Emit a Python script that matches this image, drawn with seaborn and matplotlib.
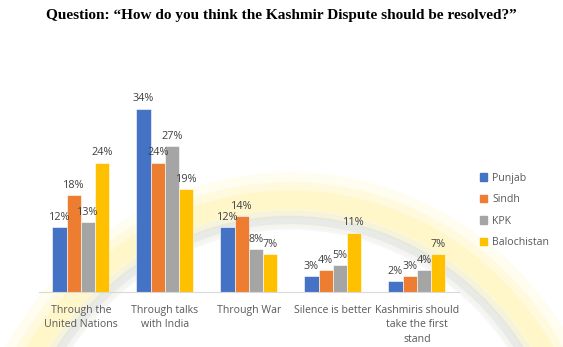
import matplotlib
matplotlib.use("Agg")
import matplotlib.pyplot as plt
import seaborn as sns
import pandas as pd
from matplotlib.patches import Ellipse

categories = ["Through the\nUnited Nations", "Through talks\nwith India", "Through War",
              "Silence is better", "Kashmiris should\ntake the first\nstand"]
provinces = ["Punjab", "Sindh", "KPK", "Balochistan"]
punjab = [12, 34, 12, 3, 2]
sindh = [18, 24, 14, 4, 3]
kpk = [13, 27, 8, 5, 4]
balochistan = [24, 19, 7, 11, 7]
colors = ["#4472C4", "#ED7D31", "#A5A5A5", "#FFC000"]

rows = []
for prov, vals in zip(provinces, [punjab, sindh, kpk, balochistan]):
    for cat, v in zip(categories, vals):
        rows.append({"category": cat, "province": prov, "value": v})
df = pd.DataFrame(rows)

sns.set_theme(style="white")
plt.rcParams["font.family"] = ["Open Sans", "DejaVu Sans"]

fig = plt.figure(figsize=(5.63, 3.47), dpi=100)
fig.patch.set_facecolor("white")

# faint background emblem
bg = fig.add_axes([0, 0, 1, 1], zorder=0)
bg.set_xlim(0, 563)
bg.set_ylim(347, 0)
bg.axis("off")
for lw, a in [(40, 0.12), (26, 0.18), (14, 0.22)]:
    bg.add_patch(Ellipse((290, 520), 600, 640, fill=False, lw=lw, ec="#FFF08A", alpha=a))
for lw, a in [(14, 0.10), (6, 0.18)]:
    bg.add_patch(Ellipse((290, 520), 560, 600, fill=False, lw=lw, ec="#A9B8D6", alpha=a))

ax = fig.add_axes([0.069, 0.1585, 0.746, 0.622], zorder=1)
ax.patch.set_alpha(0)
sns.barplot(data=df, x="category", y="value", hue="province", palette=colors,
            saturation=1, width=0.68, edgecolor="white", linewidth=0.4, ax=ax, legend=False)

for container in ax.containers:
    ax.bar_label(container, labels=[f"{int(v)}%" for v in container.datavalues],
                 padding=3, fontsize=7.8, color="#404040")

ax.set_ylim(0, 40)
ax.set_xlim(-0.5, 4.5)
ax.set_yticks([])
ax.set_xlabel("")
ax.set_ylabel("")
for s in ["top", "right", "left"]:
    ax.spines[s].set_visible(False)
ax.spines["bottom"].set_color("#D9D9D9")
ax.spines["bottom"].set_linewidth(0.8)
ax.tick_params(axis="x", length=0, pad=9, labelsize=7.6, labelcolor="#595959")
for lbl in ax.get_xticklabels():
    lbl.set_linespacing(1.45)

# legend
handles = [plt.Rectangle((0, 0), 1, 1, color=c) for c in colors]
fig.legend(handles, provinces, loc="upper left", bbox_to_anchor=(0.835, 0.53),
           frameon=False, fontsize=7.6, labelcolor="#595959", handlelength=0.7,
           handleheight=0.7, handletextpad=0.5, labelspacing=1.0)

fig.text(0.5, 0.955, "Question: \u201cHow do you think the Kashmir Dispute should be resolved?\u201d",
         ha="center", va="center", fontsize=11, fontweight="bold",
         family=["Liberation Serif", "DejaVu Serif"], color="black")

fig.savefig("out.png", dpi=100)
